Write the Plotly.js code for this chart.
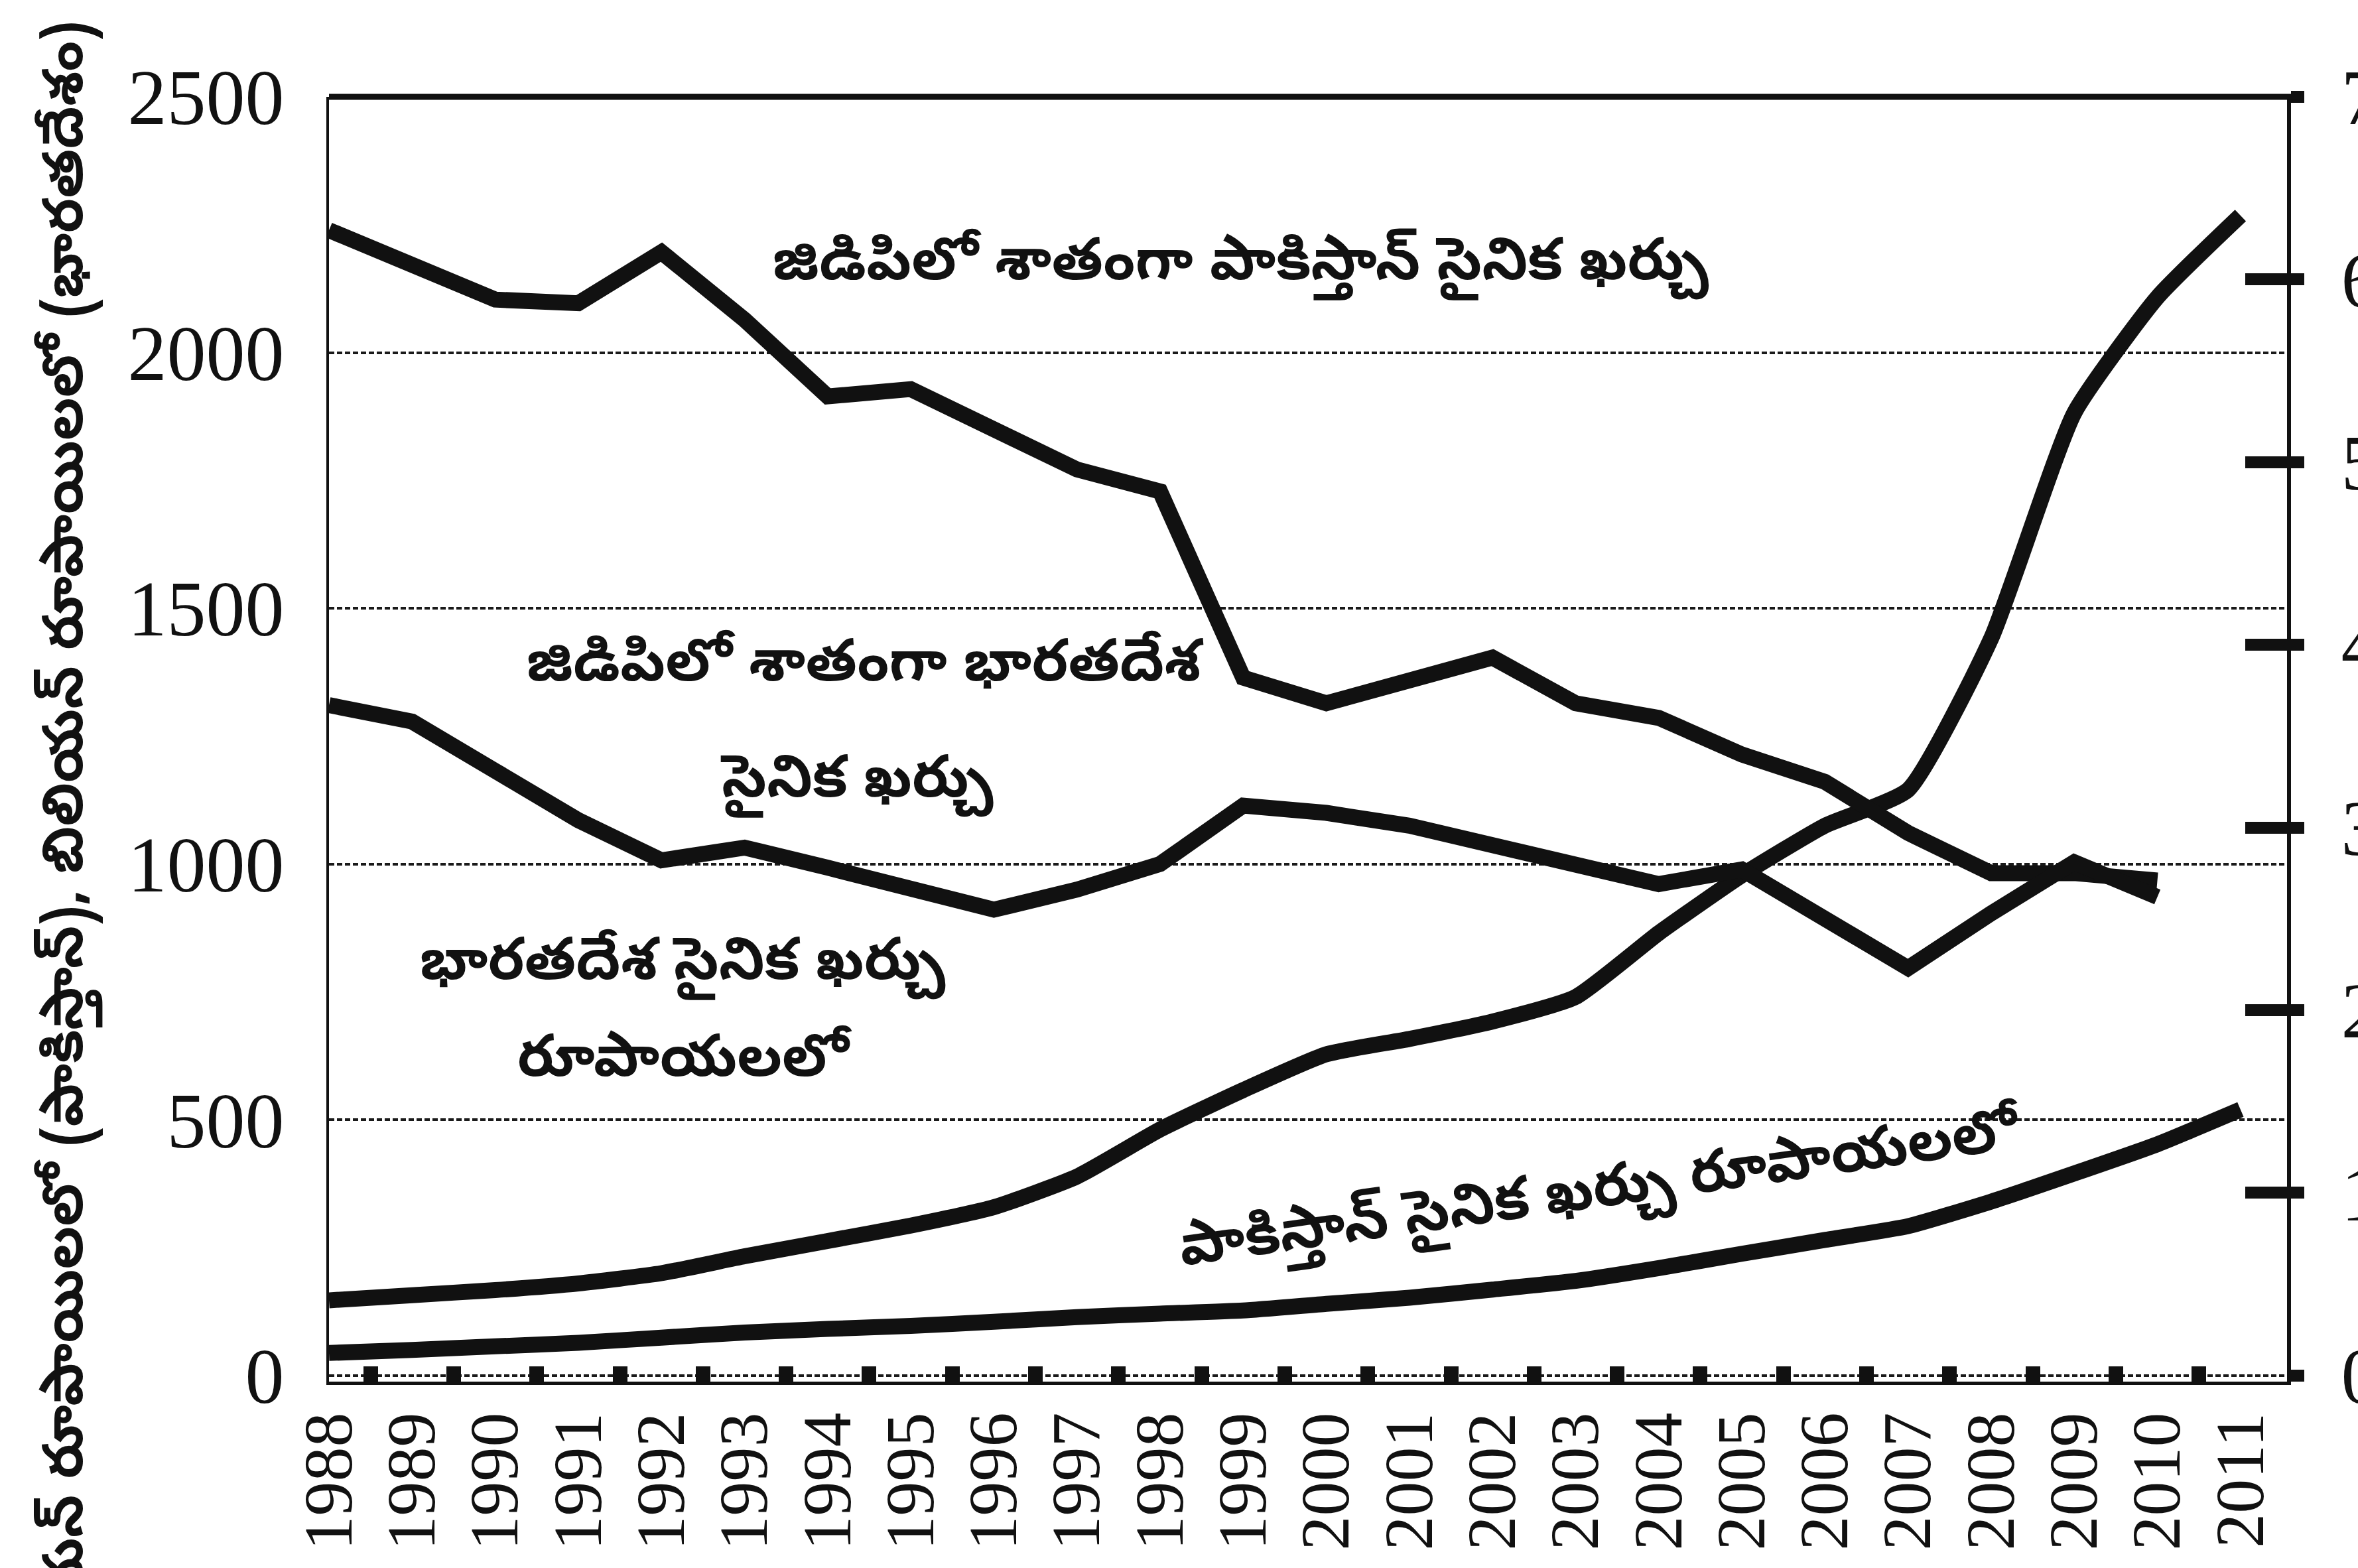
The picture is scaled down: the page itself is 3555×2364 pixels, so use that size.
<!DOCTYPE html>
<html>
<head>
<meta charset="utf-8">
<script src="https://cdn.plot.ly/plotly-3.0.1.min.js"></script>
<style>
html,body{margin:0;padding:0;background:#fff;}
#chart{width:3555px;height:2364px;}
</style>
</head>
<body>
<div id="chart"></div>
<script>
// ---- data ----
const years = [1988,1989,1990,1991,1992,1993,1994,1995,1996,1997,1998,1999,
               2000,2001,2002,2003,2004,2005,2006,2007,2008,2009,2010,2011];
const yearLabels = years.map(String);

// Military expenditure as % of GDP (right axis)
const pakPctGdp   = [6.27,6.07,5.89,5.87,6.15,5.78,5.36,5.40,5.18,4.96,4.84,3.82,
                     3.68,3.81,3.93,3.68,3.60,3.40,3.25,2.97,2.75,2.75,2.71,null];
const indiaPctGdp = [3.67,3.58,3.31,3.04,2.82,2.89,2.78,2.66,2.55,2.66,2.80,3.12,
                     3.08,3.01,2.90,2.81,2.69,2.77,2.50,2.23,2.53,2.81,2.62,null];

// Military expenditure in rupees (left axis)
const indiaRupees = [147,157,167,180,200,233,263,293,329,389,481,558,
                     628,658,692,740,865,978,1075,1145,1441,1882,2108,2268];
const pakRupees   = [44,50,57,64,74,84,91,97,105,114,121,127,
                     140,152,168,185,210,238,265,292,340,395,452,520];

const leftTicks  = [0,500,1000,1500,2000,2500];
const rightTicks = [0,1,2,3,4,5,6,7];
const rightMarks = [1,2,3,4,5,6,7];

// ---- text ----
const labelPakPct    = 'జిడిపిలో శాతంగా పాకిస్తాన్ సైనిక ఖర్చు';
const labelIndPct1   = 'జిడిపిలో శాతంగా భారతదేశ';
const labelIndPct2   = 'సైనిక ఖర్చు';
const labelIndRs1    = 'భారతదేశ సైనిక ఖర్చు';
const labelIndRs2    = 'రూపాయలలో';
const labelPakRs     = 'పాకిస్తాన్ సైనిక ఖర్చు రూపాయలలో';
const leftAxisTitle  = 'బిలియన్ రూపాయిలలో (పాకిస్తాన్), బిలియన్ రూపాయిలలో (భారతదేశం)';

// ---- styling ----
const INK = '#111111';
const LW = 24;
const teluguFont = {family: "'Noto Sans Telugu','Noto Sans',sans-serif", size: 88, color: INK, weight: 'bold'};
const numFont = {family: "'Liberation Serif','Times New Roman',serif", size: 118, color: INK};
const xFont = {family: "'Liberation Serif','Times New Roman',serif", size: 104, color: INK};

const xRange = [1988, 2011.56];
const yRange = [-12, 2500];
const y2Range = [-12/357.14, 7];
const halfYears = years.slice(0, -1).map(y => y + 0.5);

const traces = [
  {x: years, y: pakPctGdp, yaxis: 'y2', mode: 'lines', line: {color: INK, width: LW}, hoverinfo: 'skip', showlegend: false},
  {x: years, y: indiaPctGdp, yaxis: 'y2', mode: 'lines', line: {color: INK, width: LW}, hoverinfo: 'skip', showlegend: false},
  {x: years, y: indiaRupees, yaxis: 'y', mode: 'lines', line: {color: INK, width: LW, shape: 'spline', smoothing: 0.5}, hoverinfo: 'skip', showlegend: false},
  {x: years, y: pakRupees, yaxis: 'y', mode: 'lines', line: {color: INK, width: LW, shape: 'spline', smoothing: 0.5}, hoverinfo: 'skip', showlegend: false},
  // carriers for the decorative tick axes
  {x: [null], y: [null], xaxis: 'x2', yaxis: 'y', mode: 'lines', hoverinfo: 'skip', showlegend: false},
  {x: [null], y: [null], xaxis: 'x', yaxis: 'y3', mode: 'lines', hoverinfo: 'skip', showlegend: false}
];

const layout = {
  width: 3555, height: 2364,
  paper_bgcolor: '#ffffff', plot_bgcolor: '#ffffff',
  margin: {l: 496, r: 107, t: 146, b: 281, pad: 0},
  showlegend: false,
  xaxis: {
    range: xRange, tickmode: 'array', tickvals: years, ticktext: yearLabels,
    tickangle: -90, ticks: '', showline: true, linewidth: 5, linecolor: INK,
    showgrid: false, zeroline: false, tickfont: xFont, ticklabelstandoff: 0
  },
  xaxis2: {
    overlaying: 'x', anchor: 'y', side: 'bottom', range: xRange,
    tickmode: 'array', tickvals: halfYears, ticks: 'inside', ticklen: 23, tickwidth: 22,
    tickcolor: INK, showticklabels: false, showline: false, showgrid: false, zeroline: false
  },
  yaxis: {
    range: yRange, tickmode: 'array', tickvals: leftTicks, ticks: '',
    showline: true, linewidth: 4, linecolor: INK,
    showgrid: true, gridcolor: '#1a1a1a', gridwidth: 4, griddash: '8px,4px',
    zeroline: false, tickfont: numFont, ticklabelstandoff: 40
  },
  yaxis2: {
    overlaying: 'y', side: 'right', range: y2Range, tickmode: 'array', tickvals: rightTicks,
    ticks: 'outside', ticklen: 20, tickwidth: 18, tickcolor: INK,
    showline: true, linewidth: 6, linecolor: INK, showgrid: false, zeroline: false,
    tickfont: numFont, ticklabelstandoff: 32
  },
  yaxis3: {
    overlaying: 'y', side: 'right', range: y2Range, tickmode: 'array', tickvals: rightMarks,
    ticks: 'inside', ticklen: 63, tickwidth: 18, tickcolor: INK,
    showticklabels: false, showline: false, showgrid: false, zeroline: false
  },
  shapes: [
    {type: 'line', xref: 'paper', yref: 'paper', x0: 0, x1: 1.007, y0: 1, y1: 1,
     line: {color: INK, width: 9}}
  ],
  annotations: [
    {text: labelPakPct, x: 1998.97, y: 2166, xref: 'x', yref: 'y', showarrow: false, font: teluguFont},
    {text: labelIndPct1, x: 1994.45, y: 1381, xref: 'x', yref: 'y', showarrow: false, font: teluguFont},
    {text: labelIndPct2, x: 1994.35, y: 1153, xref: 'x', yref: 'y', showarrow: false, font: teluguFont},
    {text: labelIndRs1, x: 1992.26, y: 796, xref: 'x', yref: 'y', showarrow: false, font: teluguFont},
    {text: labelIndRs2, x: 1992.28, y: 608, xref: 'x', yref: 'y', showarrow: false, font: teluguFont},
    {text: labelPakRs, x: 2003.31, y: 353, xref: 'x', yref: 'y', showarrow: false, font: teluguFont, textangle: -8},
    {text: leftAxisTitle, xref: 'paper', yref: 'paper', x: -0.1314, y: 1.0599,
     xanchor: 'center', yanchor: 'top', textangle: -90, showarrow: false,
     font: {family: teluguFont.family, size: 84, color: INK, weight: 'bold'}}
  ]
};

Plotly.newPlot('chart', traces, layout, {staticPlot: true, displayModeBar: false});
</script>
</body>
</html>
